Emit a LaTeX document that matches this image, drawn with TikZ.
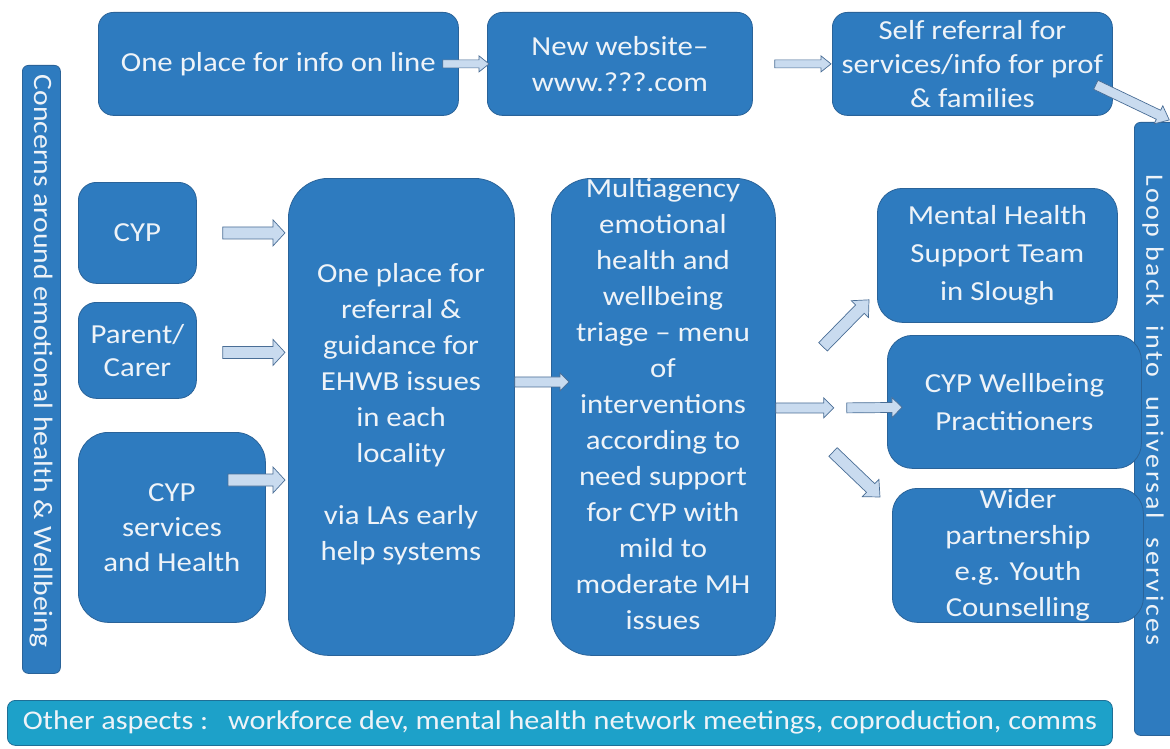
\documentclass[tikz,border=0pt]{standalone}
\usepackage{fontspec}
\setmainfont{Carlito}[FakeStretch=1.12]
\newfontfamily\spacedfont{Carlito}[FakeStretch=1.12, LetterSpace=10]
\usetikzlibrary{calc}
\definecolor{boxblue}{HTML}{2E7BBF}
\definecolor{boxedge}{HTML}{2A6399}
\definecolor{arrfill}{HTML}{C9DBEF}
\definecolor{arredge}{HTML}{4A6E96}
\definecolor{barcyan}{HTML}{1DA1C9}
\definecolor{baredge}{HTML}{1F6F96}
\definecolor{txtwhite}{HTML}{EEF3F8}
\tikzset{
  box/.style={draw=boxedge, line width=0.8pt, fill=boxblue, rounded corners=#1,
    anchor=north west, inner sep=0pt, text=txtwhite, align=center,
    font=\fontsize{27.5}{36}\selectfont},
  box/.default=18pt,
  lbl/.style={text=txtwhite, align=center, inner sep=0pt, font=\fontsize{27.5}{36}\selectfont},
  blk/.style={draw=arredge, line width=0.7pt, fill=arrfill, line join=miter},
}
% block arrow: #1 start, #2 end, #3 body half width, #4 head half width, #5 head length
\newcommand\blockarrow[5]{%
  \draw[blk] let \p1=#1, \p2=#2,
    \n1={atan2(\y2-\y1,\x2-\x1)}, \n2={veclen(\x2-\x1,\y2-\y1)} in
    [shift={(\p1)}, rotate=\n1]
    (0,-#3) -- (\n2-#5,-#3) -- (\n2-#5,-#4) -- (\n2,0) -- (\n2-#5,#4)
    -- (\n2-#5,#3) -- (0,#3) -- cycle;}
\begin{document}
\begin{tikzpicture}[x=1pt,y=-1pt]
\useasboundingbox[fill=white] (0,0) rectangle (1170,749);

% top row
\node[box=15pt, minimum width=360pt, minimum height=103pt] (info) at (98,12) {One place for info on line};
\node[box=15pt, minimum width=265pt, minimum height=103pt] (web) at (487,12) {New website–\\www.???.com};
\node[box=15pt, minimum width=280pt, minimum height=103pt, font=\fontsize{27.5}{34}\selectfont] (self) at (832,12) {Self referral for\\services/info for prof\\\& families};

% side bars
\node[box=6pt, minimum width=38pt, minimum height=608pt] (lb) at (22,65) {};
\node[lbl, rotate=-90, font=\fontsize{26.5}{30}\selectfont] (lbt) at (41,361) {Concerns around emotional health \& Wellbeing};
\node[box=6pt, minimum width=42pt, minimum height=613pt] (rb) at (1134,122) {};
\node[lbl, rotate=-90, font=\spacedfont\fontsize{25}{30}\selectfont] (rbt) at (1153,410) {Loop back\hspace{10pt} into\hspace{10pt} universal\hspace{10pt} services};

% left column
\node[box=18pt, minimum width=118pt, minimum height=101pt] (cyp) at (78,182) {CYP};
\node[box=18pt, minimum width=118pt, minimum height=96pt, font=\fontsize{27.5}{33}\selectfont] (par) at (78,302) {Parent/\\Carer};
\node[box=30pt, minimum width=187pt, minimum height=190pt, font=\fontsize{27.5}{35}\selectfont] (svc) at (78,432) {CYP\\services\\and Health};

% big boxes
\node[box=40pt, minimum width=226pt, minimum height=477pt] (ref) at (288,178) {};
\node[lbl, font=\fontsize{27.5}{36}\selectfont] (reft) at (401,414) {One place for\\referral \&\\guidance for\\EHWB issues\\in each\\locality\\[26pt]via LAs early\\help systems};
\node[box=40pt, minimum width=224pt, minimum height=477pt] (multi) at (551,178) {};
\node[lbl, font=\fontsize{27.5}{36}\selectfont] (multit) at (663,404) {Multiagency\\emotional\\health and\\wellbeing\\triage – menu\\of\\interventions\\according to\\need support\\for CYP with\\mild to\\moderate MH\\issues};

% right column
\node[box=25pt, minimum width=240pt, minimum height=134pt, font=\fontsize{27.5}{38}\selectfont] (mh) at (877,188) {Mental Health\\Support Team\\in Slough};
\node[box=25pt, minimum width=254pt, minimum height=133pt, font=\fontsize{27.5}{38}\selectfont] (wb) at (887,335) {CYP Wellbeing\\Practitioners};
\node[box=25pt, minimum width=251pt, minimum height=134pt, font=\fontsize{27.5}{36}\selectfont] (wider) at (892,488) {Wider\\partnership\\e.g. Youth\\Counselling};

% bottom bar
\node[box=8pt, fill=barcyan, draw=baredge, minimum width=1105pt, minimum height=45pt, font=\fontsize{27}{30}\selectfont] (other) at (7,700) {Other aspects :\hspace{0.4em} workforce dev, mental health network meetings, coproduction, comms};

% arrows, top row
\blockarrow{($(info.east)+(-16,0)$)}{($(web.west)+(2,0)$)}{4}{8}{10}
\blockarrow{($(web.east)+(22,0)$)}{($(self.west)+(-1,0)$)}{4}{8}{10}
\blockarrow{($(self.south east)+(-17,-31)$)}{($(rb.north)+(14,-2)$)}{5}{10}{12}

% arrows, into referral box
\blockarrow{($(cyp.east)+(26,0)$)}{($(ref.west |- cyp.east)+(-3,0)$)}{6}{13}{12}
\blockarrow{($(par.east)+(26,2)$)}{($(ref.west |- par.east)+(-3,2)$)}{6}{13}{12}
\blockarrow{($(svc.north west)+(150,48)$)}{($(svc.north west -| ref.west)+(-3,48)$)}{6}{13}{12}

% referral to triage
\blockarrow{($(ref.east)+(0,-35)$)}{($(multi.west)+(18,-35)$)}{5}{9}{9}

% triage to outcomes
\blockarrow{($(multi.east)+(0,-9)$)}{($(multi.east)+(58,-9)$)}{5}{10}{10}
\blockarrow{($(multi.east)+(71,-9)$)}{($(wb.west)+(15,5.5)$)}{5}{10}{10}
\blockarrow{($(mh.south west)+(-54,24)$)}{($(mh.south west)+(-8,-23)$)}{6}{12}{13}
\blockarrow{($(wider.north west)+(-59,-36)$)}{($(wider.north west)+(-12,9)$)}{6}{12}{13}
\end{tikzpicture}
\end{document}
